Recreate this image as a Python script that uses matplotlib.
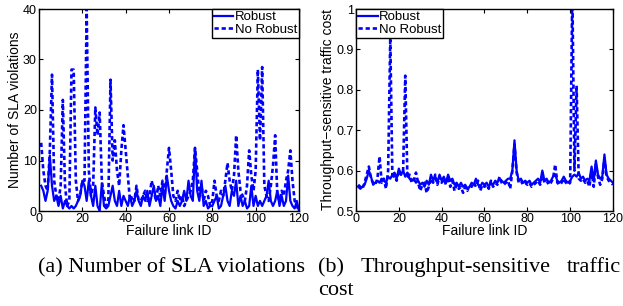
import numpy as np
import matplotlib
matplotlib.use('Agg')
import matplotlib.pyplot as plt

plt.rcParams['font.family'] = ['Liberation Sans', 'DejaVu Sans']

# failure link IDs
link_id = np.arange(1, 121)

# (a) number of SLA violations
sla_robust = [5, 4, 2, 4, 11, 5, 2, 3, 1, 3,
              0.5, 2, 1, 0.5, 1, 0.5, 1, 2, 3, 6,
              5, 2, 6, 3, 1, 5, 1, 0, 5.5, 1,
              0.5, 1, 3, 5, 2, 1, 4, 1, 3, 2,
              1, 3, 1, 2, 4, 2, 1, 3, 2, 4,
              1, 3, 5, 2, 3, 1, 5, 2, 7, 4,
              2, 1, 0.5, 2, 1, 2, 4, 2, 6, 3,
              2, 12.5, 4, 2, 6, 1, 2, 0.5, 1, 1,
              2, 3, 0.5, 1, 3, 5, 2, 1, 4, 3,
              6, 1, 3, 1, 2, 0.5, 1, 5, 1, 3,
              1, 2, 1, 2, 3, 6, 2, 1, 2, 4,
              1, 3, 1, 2, 7, 2, 1, 0.5, 2, 0]
sla_norobust = [13.5, 8, 5, 4, 12, 27, 6, 3, 2, 5,
                22, 5, 1, 2, 28, 28, 6, 2, 3, 6,
                6, 40, 8, 3, 5, 20.5, 15, 19.5, 6, 3,
                1, 2, 26, 10, 14, 8, 5, 12, 17, 12,
                7, 2, 3, 2, 5, 2, 2, 3, 4, 2,
                3, 6, 4, 2, 5, 3, 6, 3, 8, 12.5,
                8, 3, 2, 4, 2, 3, 1, 2, 3, 4,
                6, 12.5, 8, 3, 5, 2, 4, 3, 1, 2,
                6, 3, 2, 4, 3, 6, 9.5, 6, 4, 7,
                15, 8, 4, 3, 2, 5, 12, 7, 4, 8,
                28, 14, 28.5, 5, 3, 2, 5, 9, 15, 3,
                2, 4, 3, 6, 8, 12, 6, 2, 1, 0]

# (b) throughput-sensitive traffic cost
cost_robust = [0.56, 0.555, 0.56, 0.565, 0.58, 0.60, 0.585, 0.565, 0.57, 0.575,
               0.57, 0.58, 0.575, 0.57, 0.585, 0.58, 0.59, 0.595, 0.58, 0.605,
               0.59, 0.6, 0.585, 0.595, 0.58, 0.575, 0.58, 0.57, 0.575, 0.565,
               0.57, 0.56, 0.575, 0.565, 0.59, 0.575, 0.585, 0.57, 0.59, 0.575,
               0.585, 0.57, 0.59, 0.575, 0.58, 0.565, 0.57, 0.56, 0.57, 0.56,
               0.565, 0.555, 0.56, 0.57, 0.565, 0.58, 0.565, 0.56, 0.57, 0.565,
               0.57, 0.56, 0.57, 0.565, 0.575, 0.57, 0.58, 0.575, 0.57, 0.575,
               0.58, 0.58, 0.6, 0.675, 0.6, 0.575, 0.58, 0.57, 0.575, 0.57,
               0.575, 0.565, 0.57, 0.575, 0.58, 0.57, 0.6, 0.575, 0.58, 0.57,
               0.575, 0.585, 0.59, 0.575, 0.57, 0.575, 0.585, 0.575, 0.57, 0.575,
               0.585, 0.59, 0.585, 0.595, 0.58, 0.585, 0.575, 0.58, 0.575, 0.61,
               0.575, 0.625, 0.59, 0.58, 0.585, 0.64, 0.59, 0.58, 0.575, 0.57]
cost_norobust = [0.565, 0.56, 0.555, 0.57, 0.59, 0.61, 0.58, 0.57, 0.565, 0.58,
                 0.635, 0.57, 0.58, 0.555, 0.6, 0.93, 0.58, 0.59, 0.575, 0.6,
                 0.59, 0.6, 0.835, 0.58, 0.59, 0.57, 0.575, 0.595, 0.57, 0.55,
                 0.565, 0.57, 0.545, 0.56, 0.58, 0.57, 0.59, 0.565, 0.585, 0.57,
                 0.58, 0.565, 0.585, 0.56, 0.575, 0.55, 0.565, 0.555, 0.56, 0.545,
                 0.56, 0.55, 0.565, 0.56, 0.57, 0.56, 0.575, 0.55, 0.565, 0.56,
                 0.565, 0.555, 0.575, 0.56, 0.57, 0.565, 0.585, 0.57, 0.565, 0.57,
                 0.575, 0.555, 0.6, 0.665, 0.595, 0.57, 0.575, 0.565, 0.57, 0.565,
                 0.57, 0.56, 0.565, 0.57, 0.575, 0.565, 0.595, 0.57, 0.575, 0.565,
                 0.57, 0.58, 0.615, 0.57, 0.565, 0.57, 0.58, 0.57, 0.565, 0.57,
                 1.05, 0.6, 0.81, 0.58, 0.575, 0.58, 0.57, 0.575, 0.56, 0.6,
                 0.56, 0.615, 0.585, 0.565, 0.58, 0.63, 0.585, 0.575, 0.57, 0.565]

W, H = 623, 306
fig = plt.figure(figsize=(W / 100, H / 100), dpi=100)

ax1 = fig.add_axes([39 / W, 1 - 211 / H, 260 / W, 202 / H])
ax2 = fig.add_axes([356 / W, 1 - 211 / H, 257 / W, 202 / H])

blue = (0, 0, 1)
leg_kw = dict(fontsize=9.5, handlelength=1.5, handletextpad=0.1, borderpad=0.15,
              labelspacing=0.05, borderaxespad=0, fancybox=False,
              edgecolor='black', framealpha=1)
for ax, rob, nrob in [(ax1, sla_robust, sla_norobust), (ax2, cost_robust, cost_norobust)]:
    ax.plot(link_id, rob, color=blue, lw=1.6, label='Robust')
    ax.plot(link_id, nrob, color=blue, lw=1.9, dashes=(1.6, 1.1), label='No Robust')
    ax.set_xlim(0, 120)
    ax.set_xticks(range(0, 121, 20))
    ax.tick_params(direction='in', top=True, right=True, labelsize=9, length=3, pad=1.5)
    ax.set_xlabel('Failure link ID', fontsize=10, labelpad=-1)
    for s in ax.spines.values():
        s.set_linewidth(1.0)

ax1.set_ylim(0, 40)
ax1.set_yticks(range(0, 41, 10))
ax1.set_ylabel('Number of SLA violations', fontsize=10, labelpad=1)
ax1.legend(loc='upper right', **leg_kw)

ax2.set_ylim(0.5, 1)
ax2.set_yticks([0.5, 0.6, 0.7, 0.8, 0.9, 1])
ax2.set_yticklabels(['0.5', '0.6', '0.7', '0.8', '0.9', '1'])
ax2.set_ylabel('Throughput\u2212sensitive traffic cost', fontsize=10, labelpad=1)
ax2.legend(loc='upper left', **leg_kw)

# captions; the (b) line is justified between x=318 and the right edge
cap = dict(fontsize=16, family='Liberation Serif', va='baseline')
fig.text(38 / W, 1 - 272 / H, '(a) Number of SLA violations', ha='left', **cap)
words = ['(b)', 'Throughput-sensitive', 'traffic']
renderer = fig.canvas.get_renderer()
texts = [fig.text(0, 1 - 272 / H, w, ha='left', **cap) for w in words]
widths = [t.get_window_extent(renderer).width for t in texts]
gap = (621 - 318 - sum(widths)) / (len(words) - 1)
xpos = 318
for t, w in zip(texts, widths):
    t.set_x(xpos / W)
    xpos += w + gap
fig.text(318 / W, 1 - 295 / H, 'cost', ha='left', **cap)

fig.savefig('out.png', dpi=100)
